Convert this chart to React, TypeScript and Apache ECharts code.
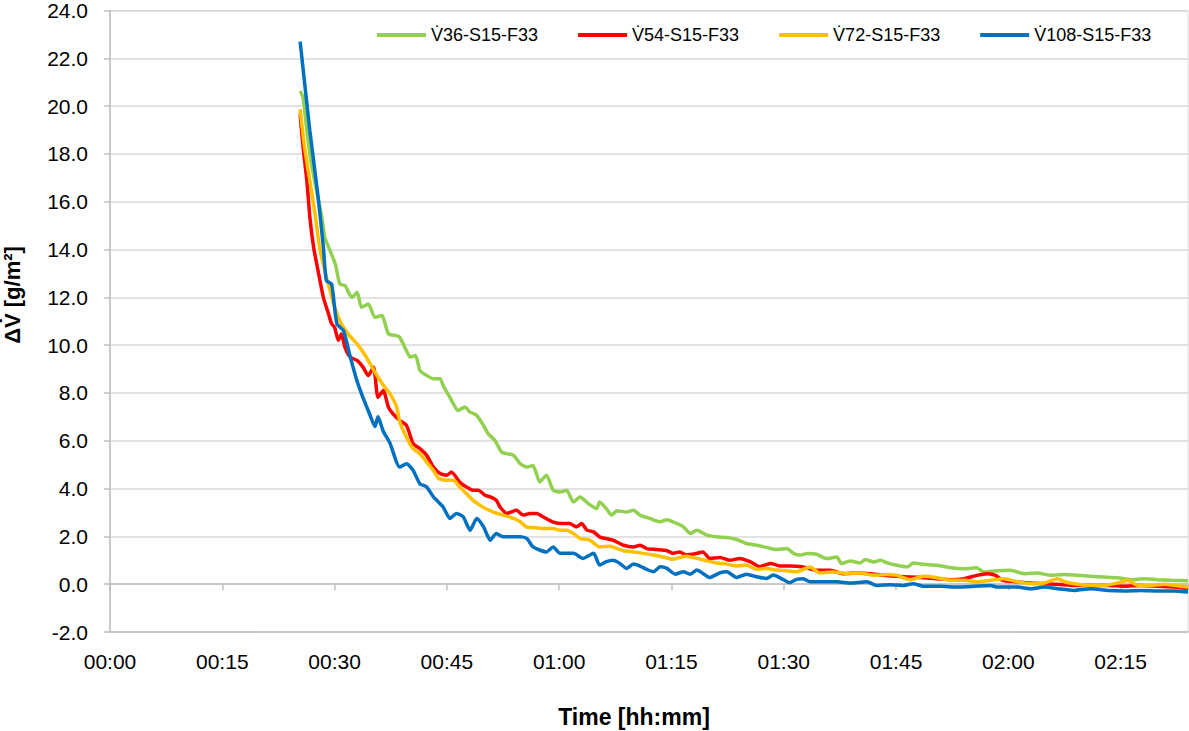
import React, { useEffect, useRef } from "react";
import * as echarts from "echarts";

// ---- DATA (time in minutes, ΔV̇ in g/m²) ----
const seriesNames = ["V\u030736-S15-F33", "V\u030754-S15-F33", "V\u030772-S15-F33", "V\u0307108-S15-F33"];

const v36Time = [25.4, 25.8, 26.3, 26.9, 27.6, 28.3, 28.7, 29.4, 30.1, 30.7, 31.4, 32.3, 33.0, 33.6, 34.5, 35.4, 36.3, 37.2, 38.3, 38.7, 39.6, 40.1, 40.8, 41.4, 42.3, 43.2, 44.1, 44.5, 45.4, 46.5, 47.4, 48.1, 49.0, 49.9, 50.5, 51.4, 52.3, 53.0, 53.9, 54.8, 55.7, 56.5, 57.4, 58.3, 59.2, 60.1, 61.0, 61.9, 62.8, 63.9, 65.0, 65.4, 66.3, 67.0, 67.7, 69.0, 69.9, 70.8, 72.1, 73.5, 74.4, 75.7, 76.6, 77.5, 78.4, 79.7, 81.0, 82.4, 83.7, 85.0, 86.4, 87.7, 89.0, 90.4, 91.3, 92.2, 93.1, 94.4, 95.7, 97.1, 97.7, 98.9, 100.2, 100.9, 102.0, 102.9, 103.8, 105.1, 106.5, 107.3, 108.7, 110.5, 112.3, 114.1, 115.8, 116.7, 118.5, 120.3, 122.1, 123.9, 125.7, 127.5, 129.2, 131.0, 132.8, 134.6, 136.4, 138.2, 139.9, 141.7, 144.0];
const v36Values = [20.63, 20.35, 18.96, 17.57, 16.46, 15.34, 14.5, 13.95, 13.39, 12.56, 12.49, 12.0, 12.21, 11.58, 11.72, 11.16, 11.24, 10.47, 10.4, 10.33, 9.77, 9.5, 9.57, 8.94, 8.73, 8.59, 8.59, 8.31, 7.82, 7.27, 7.41, 7.2, 7.06, 6.64, 6.3, 6.02, 5.53, 5.46, 5.39, 5.04, 4.9, 4.97, 4.28, 4.56, 3.93, 3.86, 3.93, 3.44, 3.65, 3.37, 3.16, 3.44, 3.16, 2.89, 3.07, 3.02, 3.09, 2.89, 2.75, 2.61, 2.7, 2.54, 2.4, 2.12, 2.26, 2.05, 1.98, 1.95, 1.87, 1.7, 1.63, 1.54, 1.45, 1.49, 1.29, 1.22, 1.28, 1.25, 1.07, 1.14, 0.86, 0.97, 0.89, 1.03, 0.93, 1.0, 0.89, 0.79, 0.72, 0.89, 0.83, 0.79, 0.69, 0.65, 0.69, 0.51, 0.56, 0.58, 0.44, 0.47, 0.37, 0.41, 0.37, 0.33, 0.3, 0.27, 0.19, 0.23, 0.19, 0.16, 0.14];

const v54Time = [25.4, 25.8, 26.3, 26.7, 27.2, 27.8, 28.5, 29.2, 29.6, 30.0, 30.5, 30.9, 31.4, 32.1, 33.0, 33.8, 34.5, 35.2, 35.8, 36.5, 37.2, 37.8, 38.7, 39.6, 40.5, 41.4, 42.3, 43.2, 44.1, 45.0, 45.6, 46.7, 47.6, 48.5, 49.2, 50.1, 50.8, 51.6, 52.1, 53.0, 54.3, 55.2, 56.1, 57.0, 57.9, 59.2, 60.5, 61.4, 62.3, 63.0, 63.7, 64.6, 65.4, 66.3, 67.2, 68.6, 69.9, 70.8, 71.7, 73.0, 74.4, 75.2, 76.1, 77.0, 78.4, 79.2, 80.1, 81.5, 82.8, 84.1, 85.5, 86.8, 88.2, 89.5, 90.8, 92.6, 94.4, 96.2, 98.0, 99.8, 101.5, 103.3, 105.1, 106.9, 108.7, 110.5, 112.3, 114.1, 115.8, 117.2, 118.3, 119.2, 121.2, 123.0, 124.8, 126.6, 128.8, 131.0, 133.3, 135.5, 137.7, 140.0, 142.2, 144.0];
const v54Values = [19.66, 18.26, 16.87, 15.34, 14.09, 13.1, 12.0, 11.3, 10.9, 10.75, 10.2, 10.47, 9.9, 9.5, 9.36, 9.08, 8.73, 9.08, 7.82, 8.1, 7.4, 7.13, 6.85, 6.64, 5.88, 5.67, 5.39, 4.9, 4.63, 4.56, 4.69, 4.28, 4.07, 3.93, 3.93, 3.72, 3.65, 3.51, 3.23, 2.96, 3.09, 2.89, 2.96, 2.96, 2.81, 2.6, 2.54, 2.54, 2.4, 2.54, 2.26, 2.19, 1.98, 1.91, 1.84, 1.63, 1.56, 1.63, 1.49, 1.45, 1.4, 1.29, 1.35, 1.22, 1.29, 1.35, 1.08, 1.12, 1.0, 1.08, 0.94, 0.73, 0.87, 0.76, 0.76, 0.72, 0.58, 0.58, 0.44, 0.47, 0.44, 0.37, 0.33, 0.3, 0.27, 0.23, 0.19, 0.23, 0.37, 0.44, 0.37, 0.16, 0.1, 0.05, 0.02, 0.0, -0.05, -0.05, -0.05, -0.09, -0.05, -0.09, -0.12, -0.19];

const v72Time = [25.4, 26.0, 26.7, 27.4, 28.0, 28.7, 29.4, 30.0, 30.9, 31.8, 33.0, 34.1, 35.0, 35.8, 36.7, 37.4, 38.3, 38.7, 39.6, 40.5, 41.4, 42.3, 43.2, 43.9, 45.0, 45.9, 46.7, 47.6, 48.5, 49.8, 51.2, 52.5, 53.9, 54.8, 55.6, 56.5, 57.9, 59.2, 60.1, 61.0, 61.9, 62.8, 64.1, 65.4, 66.8, 67.7, 68.6, 69.9, 71.2, 72.6, 73.9, 75.2, 76.1, 77.0, 78.4, 79.7, 81.0, 82.4, 83.7, 85.0, 86.4, 87.7, 89.0, 90.4, 91.7, 93.5, 94.8, 96.6, 98.4, 100.2, 102.0, 103.8, 105.1, 106.9, 108.7, 110.5, 112.3, 114.1, 115.8, 117.6, 119.4, 121.2, 123.0, 124.8, 126.6, 127.5, 129.2, 131.0, 132.8, 134.6, 135.9, 137.3, 139.1, 140.9, 142.2, 144.0];
const v72Values = [19.87, 18.26, 16.87, 15.48, 14.09, 13.1, 12.28, 11.58, 10.89, 10.47, 10.05, 9.57, 9.08, 8.66, 8.24, 7.97, 7.4, 6.8, 6.15, 5.67, 5.46, 5.11, 4.76, 4.42, 4.35, 4.35, 4.07, 3.79, 3.51, 3.23, 3.02, 2.89, 2.75, 2.61, 2.4, 2.37, 2.33, 2.33, 2.26, 2.26, 2.12, 1.91, 1.84, 1.56, 1.59, 1.49, 1.4, 1.35, 1.29, 1.22, 1.14, 1.04, 1.12, 1.17, 1.08, 0.98, 0.89, 0.84, 0.76, 0.8, 0.62, 0.66, 0.59, 0.56, 0.52, 0.72, 0.47, 0.51, 0.44, 0.47, 0.37, 0.41, 0.37, 0.19, 0.33, 0.27, 0.16, 0.16, 0.1, 0.16, 0.23, 0.1, 0.02, 0.05, 0.23, 0.1, 0.0, -0.05, -0.05, 0.05, 0.16, -0.05, -0.05, 0.0, -0.05, -0.12];

const v108Time = [25.4, 26.7, 27.8, 28.5, 28.9, 29.6, 30.3, 31.2, 32.1, 33.0, 33.8, 34.7, 35.4, 35.8, 36.5, 37.4, 38.7, 39.6, 40.5, 41.4, 42.3, 43.2, 44.5, 45.4, 46.3, 47.2, 48.1, 49.0, 49.9, 50.8, 51.6, 52.5, 54.8, 55.7, 56.5, 58.3, 59.2, 60.1, 61.9, 63.2, 64.6, 65.4, 66.3, 67.2, 68.1, 69.0, 69.9, 70.8, 71.7, 72.6, 73.5, 74.4, 75.5, 76.6, 77.5, 78.4, 79.2, 80.1, 81.5, 82.4, 83.7, 85.0, 86.4, 87.7, 88.6, 89.9, 90.8, 91.7, 92.6, 93.5, 95.3, 97.1, 98.9, 101.1, 102.4, 104.2, 106.0, 107.3, 108.7, 110.9, 113.2, 115.4, 117.6, 118.5, 121.2, 123.0, 124.8, 126.6, 128.8, 131.0, 133.3, 135.5, 137.7, 140.0, 142.2, 144.0];
const v108Values = [22.7, 18.96, 16.2, 14.1, 12.7, 12.56, 10.9, 10.6, 9.5, 8.5, 7.8, 7.1, 6.6, 7.0, 6.4, 5.9, 4.9, 5.04, 4.76, 4.2, 4.07, 3.65, 3.23, 2.75, 2.96, 2.81, 2.26, 2.75, 2.4, 1.84, 2.12, 1.98, 1.98, 1.91, 1.56, 1.35, 1.56, 1.29, 1.29, 1.08, 1.29, 0.8, 0.94, 1.0, 0.87, 0.66, 0.84, 0.76, 0.62, 0.52, 0.73, 0.66, 0.42, 0.52, 0.42, 0.59, 0.45, 0.28, 0.48, 0.52, 0.28, 0.42, 0.31, 0.24, 0.38, 0.2, 0.06, 0.2, 0.23, 0.1, 0.1, 0.1, 0.05, 0.1, -0.05, -0.02, -0.05, 0.02, -0.09, -0.09, -0.12, -0.09, -0.05, -0.12, -0.12, -0.19, -0.12, -0.19, -0.26, -0.19, -0.26, -0.28, -0.26, -0.28, -0.28, -0.33];

const seriesTimes = [v36Time, v54Time, v72Time, v108Time];
const seriesValues = [v36Values, v54Values, v72Values, v108Values];
const seriesColors = ["#92D050", "#FF0000", "#FFC000", "#0070C0"];

const xMin = 0;
const xMax = 144;
const xInterval = 15;
const yMin = -2;
const yMax = 24;
const yInterval = 2;

const xTitle = "Time [hh:mm]";
const yTitle = "\u0394V\u0307 [g/m\u00B2]";

const FONT = "'Liberation Sans', Arial, sans-serif";

function fmtTime(m: number): string {
  if (m >= xMax) return "";
  const h = Math.floor(m / 60);
  const mm = Math.round(m - h * 60);
  return String(h).padStart(2, "0") + ":" + String(mm).padStart(2, "0");
}

export default function App() {
  const ref = useRef<HTMLDivElement>(null);

  useEffect(() => {
    if (!ref.current) return;
    const chart = echarts.init(ref.current, undefined, { renderer: "svg" });

    const series = seriesNames.map((name, i) => ({
      name,
      type: "line",
      xAxisIndex: 0,
      yAxisIndex: 0,
      symbol: "none",
      smooth: 0.2,
      lineStyle: { width: 3.5, color: seriesColors[i] },
      itemStyle: { color: seriesColors[i] },
      data: seriesTimes[i].map((t, j) => [t, seriesValues[i][j]]),
      z: 3 + i,
    }));

    chart.setOption({
      animation: false,
      backgroundColor: "#ffffff",
      grid: {
        left: 110,
        top: 10,
        right: 1,
        bottom: 99,
        show: true,
        borderColor: "#D9D9D9",
        borderWidth: 1,
      },
      legend: {
        left: 372,
        top: 21,
        icon: "rect",
        itemWidth: 49,
        itemHeight: 4,
        itemGap: 40,
        textStyle: { fontFamily: FONT, fontSize: 18, color: "#000" },
        data: seriesNames,
      },
      xAxis: [
        {
          type: "value",
          position: "bottom",
          min: xMin,
          max: xMax,
          interval: xInterval,
          axisLine: { onZero: false, lineStyle: { color: "#BFBFBF", width: 1.5 } },
          axisTick: { show: false },
          splitLine: { show: false },
          axisLabel: {
            margin: 19,
            fontFamily: FONT,
            fontSize: 21,
            color: "#000",
            showMaxLabel: false,
            formatter: (v: number) => fmtTime(v),
          },
        },
        {
          type: "value",
          position: "bottom",
          min: xMin,
          max: xMax,
          interval: xInterval,
          axisLine: { onZero: true, lineStyle: { color: "#BFBFBF", width: 1.5 } },
          axisTick: { show: true, length: 6, lineStyle: { color: "#BFBFBF", width: 1.5 } },
          axisLabel: { show: false },
          splitLine: { show: false },
        },
      ],
      yAxis: {
        type: "value",
        min: yMin,
        max: yMax,
        interval: yInterval,
        axisLine: { show: true, onZero: false, lineStyle: { color: "#BFBFBF", width: 1.5 } },
        axisTick: { show: true, length: 6, lineStyle: { color: "#BFBFBF", width: 1.5 } },
        splitLine: { show: true, lineStyle: { color: "#D9D9D9", width: 1.5 } },
        axisLabel: {
          margin: 22,
          fontFamily: FONT,
          fontSize: 21,
          color: "#000",
          formatter: (v: number) => v.toFixed(1),
        },
      },
      graphic: [
        {
          type: "text",
          x: 634,
          y: 717,
          style: {
            text: xTitle,
            fontFamily: FONT,
            fontSize: 23,
            fontWeight: "bold",
            fill: "#000",
            align: "center",
            verticalAlign: "middle",
          },
        },
        {
          type: "text",
          x: 12,
          y: 295,
          rotation: Math.PI / 2,
          style: {
            text: yTitle,
            fontFamily: FONT,
            fontSize: 22,
            fontWeight: "bold",
            fill: "#000",
            align: "center",
            verticalAlign: "middle",
          },
        },
      ],
      series,
    });

    return () => chart.dispose();
  }, []);

  return (
    <div
      ref={ref}
      style={{ position: "fixed", left: 0, top: 0, width: 1189, height: 731, background: "#fff" }}
    />
  );
}
